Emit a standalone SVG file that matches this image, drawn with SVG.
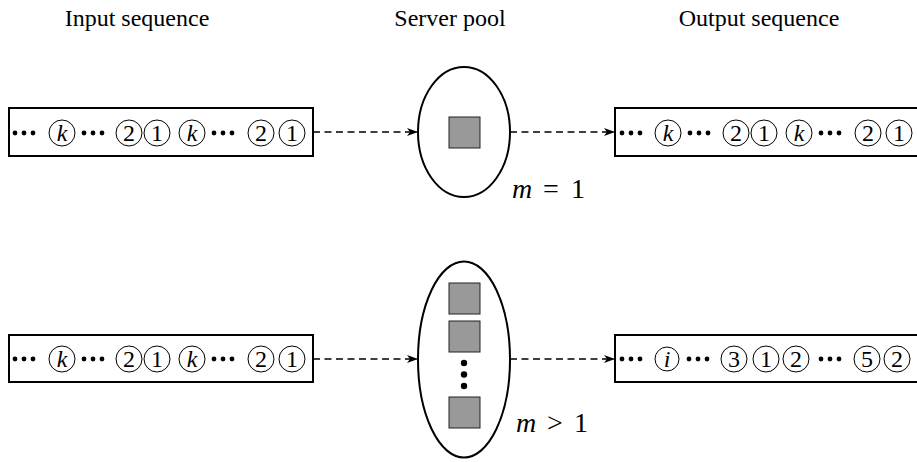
<svg xmlns="http://www.w3.org/2000/svg" width="917" height="462" viewBox="0 0 917 462">
<style>
.title{font-family:"Liberation Serif","DejaVu Serif",serif;font-size:24px;fill:#000;text-anchor:middle}
.box{fill:#fff;stroke:#000;stroke-width:2}
.pool{fill:#fff;stroke:#000;stroke-width:2}
.srv{fill:#999;stroke:#222;stroke-width:1}
.cc{fill:none;stroke:#000;stroke-width:1}
.ct{font-family:"Liberation Serif","DejaVu Serif",serif;font-size:24px;fill:#000;text-anchor:middle}
.ci{font-style:italic}
.dot{fill:#000}
.conn{fill:none;stroke:#000;stroke-width:1.7;stroke-dasharray:7 4.5}
.lbl{font-family:"Liberation Serif","DejaVu Serif",serif;font-size:28px;fill:#000}
</style>
<defs>
<marker id="arr" markerWidth="12" markerHeight="10" refX="11" refY="4" orient="auto" markerUnits="userSpaceOnUse">
<path d="M0,0 L11,4 L0,8 L3,4 z" fill="#000"/>
</marker>
<g id="d3"><circle cx="0" cy="0" r="2.4"/><circle cx="9" cy="0" r="2.4"/><circle cx="18" cy="0" r="2.4"/></g>
</defs>

<g id="titles">
<text class="title" x="137" y="26">Input sequence</text>
<text class="title" x="450" y="26">Server pool</text>
<text class="title" x="759" y="26">Output sequence</text>
</g>

<g id="connectors">
<line class="conn" x1="313" y1="132" x2="418" y2="132" marker-end="url(#arr)"/>
<line class="conn" x1="510" y1="132" x2="615" y2="132" marker-end="url(#arr)"/>
<line class="conn" x1="313" y1="359" x2="418" y2="359" marker-end="url(#arr)"/>
<line class="conn" x1="510" y1="359" x2="615" y2="359" marker-end="url(#arr)"/>
</g>

<g id="input-top">
<rect class="box" x="9" y="108" width="304" height="48"/>
<g class="dot"><use href="#d3" x="15" y="133"/><use href="#d3" x="84" y="133"/><use href="#d3" x="214" y="133"/></g>
<circle class="cc" cx="62" cy="133" r="13"/><text class="ct ci" x="62" y="141">k</text>
<circle class="cc" cx="129" cy="133" r="13"/><text class="ct" x="129" y="141">2</text>
<circle class="cc" cx="157" cy="133" r="13"/><text class="ct" x="157" y="141">1</text>
<circle class="cc" cx="192" cy="133" r="13"/><text class="ct ci" x="192" y="141">k</text>
<circle class="cc" cx="261" cy="133" r="13"/><text class="ct" x="261" y="141">2</text>
<circle class="cc" cx="292" cy="133" r="13"/><text class="ct" x="292" y="141">1</text>
</g>

<g id="pool-top">
<ellipse class="pool" cx="464" cy="132" rx="46" ry="65"/>
<rect class="srv" x="449" y="117" width="31" height="31"/>
<text class="lbl" y="198"><tspan x="512" font-style="italic">m</tspan><tspan x="543">=</tspan><tspan x="571">1</tspan></text>
</g>

<g id="output-top">
<rect class="box" x="615" y="108" width="310" height="48"/>
<g class="dot"><use href="#d3" x="622" y="133"/><use href="#d3" x="690" y="133"/><use href="#d3" x="821" y="133"/></g>
<circle class="cc" cx="668" cy="133" r="13"/><text class="ct ci" x="668" y="141">k</text>
<circle class="cc" cx="736" cy="133" r="13"/><text class="ct" x="736" y="141">2</text>
<circle class="cc" cx="764" cy="133" r="13"/><text class="ct" x="764" y="141">1</text>
<circle class="cc" cx="799" cy="133" r="13"/><text class="ct ci" x="799" y="141">k</text>
<circle class="cc" cx="868" cy="133" r="13"/><text class="ct" x="868" y="141">2</text>
<circle class="cc" cx="899" cy="133" r="13"/><text class="ct" x="899" y="141">1</text>
</g>

<g id="input-bottom">
<rect class="box" x="9" y="335" width="304" height="47"/>
<g class="dot"><use href="#d3" x="15" y="359"/><use href="#d3" x="84" y="359"/><use href="#d3" x="214" y="359"/></g>
<circle class="cc" cx="62" cy="359" r="13"/><text class="ct ci" x="62" y="367">k</text>
<circle class="cc" cx="129" cy="359" r="13"/><text class="ct" x="129" y="367">2</text>
<circle class="cc" cx="157" cy="359" r="13"/><text class="ct" x="157" y="367">1</text>
<circle class="cc" cx="192" cy="359" r="13"/><text class="ct ci" x="192" y="367">k</text>
<circle class="cc" cx="261" cy="359" r="13"/><text class="ct" x="261" y="367">2</text>
<circle class="cc" cx="292" cy="359" r="13"/><text class="ct" x="292" y="367">1</text>
</g>

<g id="pool-bottom">
<ellipse class="pool" cx="464" cy="359.5" rx="46" ry="98"/>
<rect class="srv" x="449" y="283" width="31" height="31"/>
<rect class="srv" x="449" y="321" width="31" height="31"/>
<circle class="dot" cx="464" cy="363" r="3.2"/>
<circle class="dot" cx="464" cy="374.5" r="3.2"/>
<circle class="dot" cx="464" cy="386" r="3.2"/>
<rect class="srv" x="449" y="397" width="31" height="31"/>
<text class="lbl" y="432"><tspan x="516" font-style="italic">m</tspan><tspan x="547">&gt;</tspan><tspan x="574">1</tspan></text>
</g>

<g id="output-bottom">
<rect class="box" x="615" y="335" width="310" height="47"/>
<g class="dot"><use href="#d3" x="622" y="359"/><use href="#d3" x="689" y="359"/><use href="#d3" x="821" y="359"/></g>
<circle class="cc" cx="667" cy="359" r="12"/><text class="ct ci" x="667" y="367">i</text>
<circle class="cc" cx="734" cy="359" r="13"/><text class="ct" x="734" y="367">3</text>
<circle class="cc" cx="766" cy="359" r="13"/><text class="ct" x="766" y="367">1</text>
<circle class="cc" cx="796" cy="359" r="13"/><text class="ct" x="796" y="367">2</text>
<circle class="cc" cx="867" cy="359" r="13"/><text class="ct" x="867" y="367">5</text>
<circle class="cc" cx="897" cy="359" r="13"/><text class="ct" x="897" y="367">2</text>
</g>
</svg>
